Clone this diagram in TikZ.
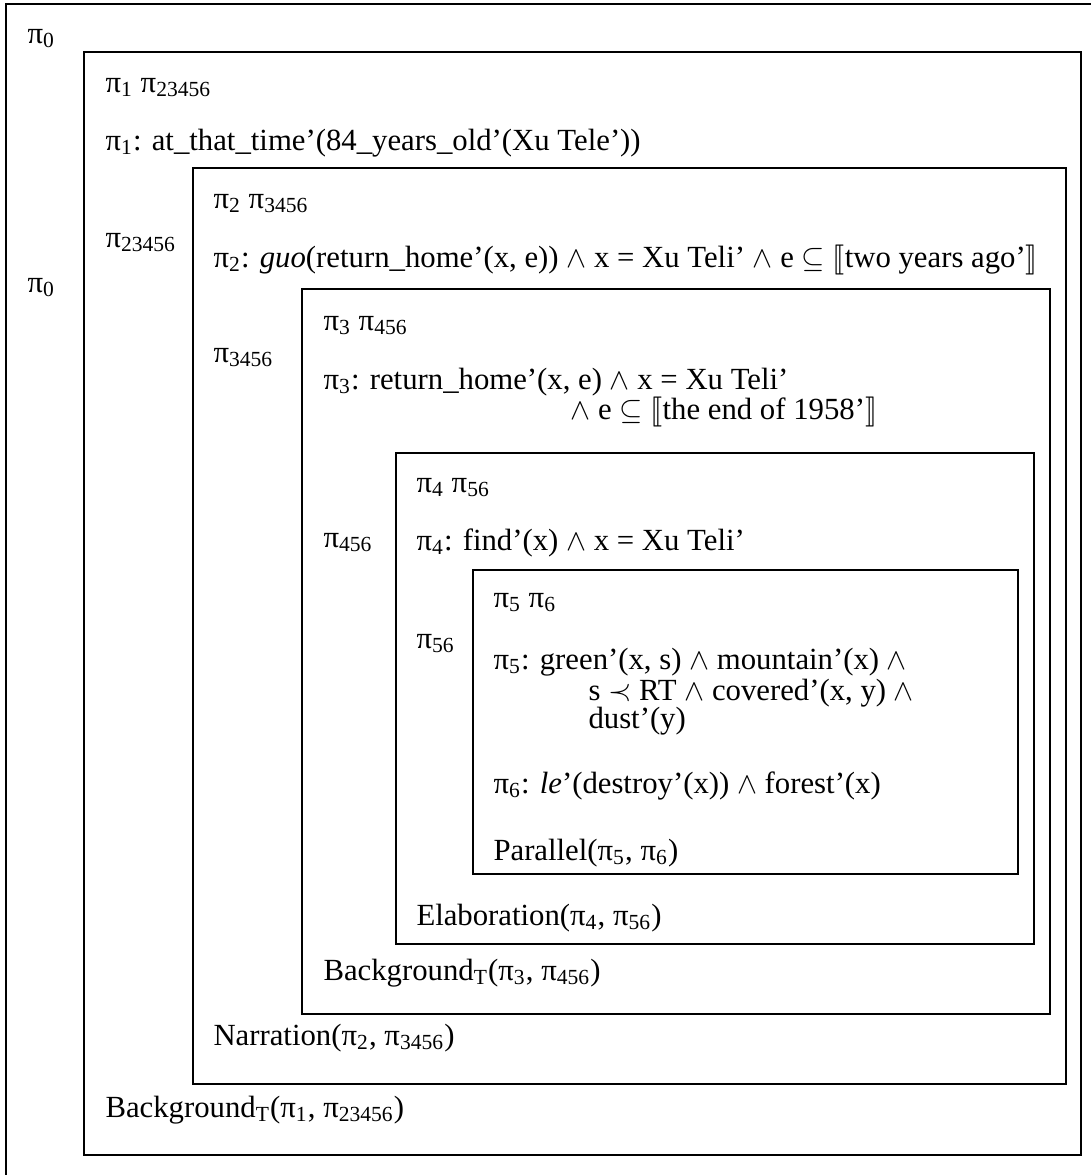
\documentclass[tikz,border=0pt]{standalone}
\usepackage{amsmath}
\usepackage{amssymb}
\usepackage{stmaryrd}
\usepackage{fontspec}
\setmainfont{Liberation Serif}
\usepackage{tikz}

\newcommand{\pis}[1]{π\textsubscript{#1}}
\newcommand{\band}{$\wedge$}

\tikzset{
  txt/.style={anchor=base west, inner sep=0pt},
  frame/.style={draw, line width=0.8pt}
}

\begin{document}
\begin{tikzpicture}[x=0.4pt, y=-0.4pt, font=\fontsize{12.3}{14}\selectfont]
            \useasboundingbox (0,0) rectangle (1091,1175);
            % Define boxes
            \draw[frame] (5.7,4.3) rectangle (1100,1190);
            \draw[frame] (83.7,51.7) rectangle (1081,1155);
            \draw[frame] (193,168.3) rectangle (1065.7,1084);
            \draw[frame] (302.3,289) rectangle (1050,1014);
            \draw[frame] (395.7,453.3) rectangle (1034.3,944);
            \draw[frame] (473.3,570) rectangle (1018,874);
            % Labels of the outer box
            \node[txt] (p0a) at (27,43) {\pis{0}};
            \node[txt] (p0b) at (27,292) {\pis{0}};
            % Box 1
            \node[txt] (h1) at (105,92) {\pis{1} \pis{23456}};
            \node[txt] (c1) at (105,150) {\pis{1}: at\_that\_time’(84\_years\_old’(Xu Tele’))};
            \node[txt] (s1) at (105,247) {\pis{23456}};
            \node[txt] (r1) at (105,1117) {Background\textsubscript{T}(\pis{1}, \pis{23456})};
            % Box 2
            \node[txt] (h2) at (213,208) {\pis{2} \pis{3456}};
            \node[txt] (c2) at (213,267) {\pis{2}: \textit{guo}(return\_home’(x, e)) \band{} x = Xu Teli’ \band{} e $\subseteq$ $\llbracket$two years ago’$\rrbracket$};
            \node[txt] (s2) at (213,362) {\pis{3456}};
            \node[txt] (r2) at (213,1045) {Narration(\pis{2}, \pis{3456})};
            % Box 3
            \node[txt] (h3) at (323,330) {\pis{3} \pis{456}};
            \node[txt] (c3) at (323,389) {\pis{3}: return\_home’(x, e) \band{} x = Xu Teli’};
            \node[txt] (c3b) at (570,419) {\band{} e $\subseteq$ $\llbracket$the end of 1958’$\rrbracket$};
            \node[txt] (s3) at (323,547) {\pis{456}};
            \node[txt] (r3) at (323,980) {Background\textsubscript{T}(\pis{3}, \pis{456})};
            % Box 4
            \node[txt] (h4) at (416,492) {\pis{4} \pis{56}};
            \node[txt] (c4) at (416,550) {\pis{4}: find’(x) \band{} x = Xu Teli’};
            \node[txt] (s4) at (416,648) {\pis{56}};
            \node[txt] (r4) at (416,925) {Elaboration(\pis{4}, \pis{56})};
            % Box 5
            \node[txt] (h5) at (493,607) {\pis{5} \pis{6}};
            \node[txt] (c5) at (493,669) {\pis{5}: green’(x, s) \band{} mountain’(x) \band};
            \node[txt] (c5b) at (588,700) {s $\prec$ RT \band{} covered’(x, y) \band};
            \node[txt] (c5c) at (588,728) {dust’(y)};
            \node[txt] (c6) at (493,793) {\pis{6}: \textit{le}’(destroy’(x)) \band{} forest’(x)};
            \node[txt] (r5) at (493,860) {Parallel(\pis{5}, \pis{6})};
        \end{tikzpicture}
\end{document}
